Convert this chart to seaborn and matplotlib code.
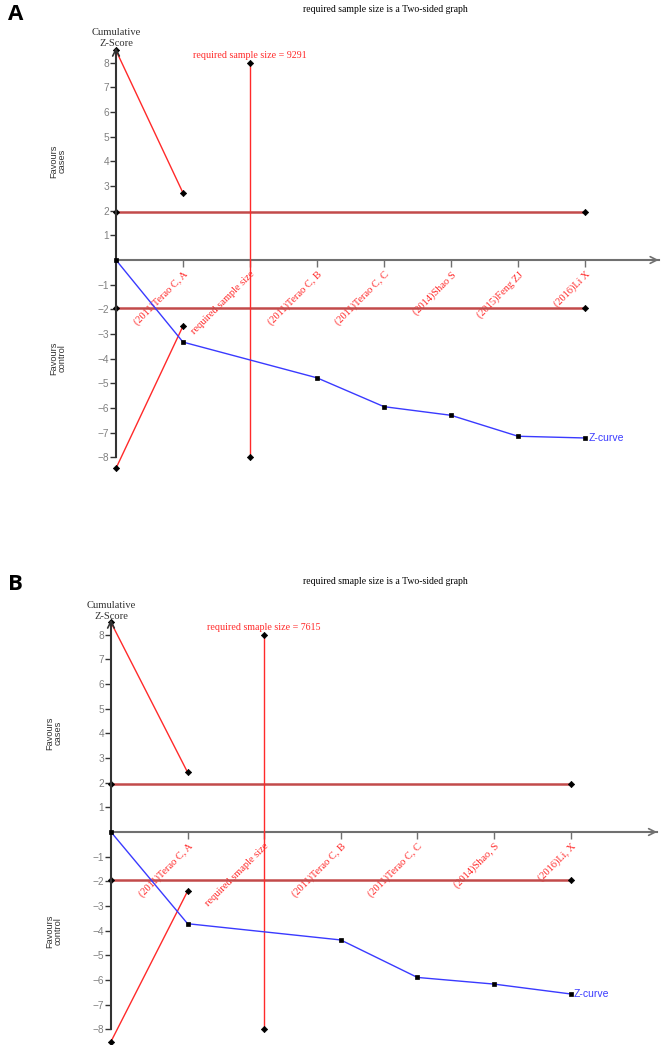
import matplotlib
matplotlib.use("Agg")
import matplotlib.pyplot as plt
import seaborn as sns
import numpy as np

# ---------------- data ----------------
# Panel A
labels_a = ["(2011)Terao C, A", "required sample size", "(2011)Terao C, B",
            "(2011)Terao C, C", "(2014)Shao S", "(2015)Feng ZJ", "(2016)Li X"]
z_pos_a = [0, 1, 3, 4, 5, 6, 7]
z_val_a = [0, -3.33, -4.78, -5.95, -6.30, -7.15, -7.22]
upper_pos_a = [0, 1]
upper_val_a = [8.5, 2.72]
lower_pos_a = [0, 1]
lower_val_a = [-8.45, -2.68]
req_pos_a = 2
req_text_a = "required sample size = 9291"
title_a = "required sample size is a Two-sided graph"

# Panel B
labels_b = ["(2011)Terao C, A", "required smaple size", "(2011)Terao C, B",
            "(2011)Terao C, C", "(2014)Shao, S", "(2016)Li, X"]
z_pos_b = [0, 1, 3, 4, 5, 6]
z_val_b = [0, -3.72, -4.38, -5.90, -6.17, -6.57]
upper_pos_b = [0, 1]
upper_val_b = [8.5, 2.42]
lower_pos_b = [0, 1]
lower_val_b = [-8.5, -2.40]
req_pos_b = 2
req_text_b = "required smaple size = 7615"
title_b = "required smaple size is a Two-sided graph"

req_range = [-8, 8]
conv = 1.96
yticks = [-8, -7, -6, -5, -4, -3, -2, -1, 1, 2, 3, 4, 5, 6, 7, 8]

# ---------------- style ----------------
sns.set_style("white")
plt.rcParams['font.family'] = ['Liberation Sans', 'DejaVu Sans']
plt.rcParams['axes.unicode_minus'] = True

W, H = 666, 1045
fig = plt.figure(figsize=(W / 100, H / 100), dpi=100)

SERIF = 'Liberation Serif'
RED = '#ff2a2a'
DARKRED = '#c24a4a'
MK = dict(markersize=3.2, markerfacecolor='black', markeredgecolor='black',
          markeredgewidth=0.5)


def fx(px):
    return px / W


def fy(py):
    return 1 - py / H


def panel(ax, labels, zpos, zval, upos, uval, lpos, lval, reqpos, reqtext,
          origin_px, unit_x, zero_py, unit_y, top_py, bottom_py, x_end):
    ax.set_facecolor('none')
    ax.set_xlim(-origin_px / unit_x, (W - origin_px) / unit_x)
    ax.set_ylim((zero_py - bottom_py) / unit_y, (zero_py - top_py) / unit_y)
    n = len(labels)

    # conventional boundaries
    for v in (conv, -conv):
        sns.lineplot(x=[0, n], y=[v, v], ax=ax, color=DARKRED, lw=1.8,
                     marker='D', zorder=2, **MK)
    # required information size vertical line
    sns.lineplot(x=[reqpos, reqpos], y=req_range, ax=ax, color=RED, lw=1.0,
                 marker='D', zorder=3, sort=False, estimator=None, **MK)
    ax.text(reqpos, 8.3, reqtext, color=RED, fontsize=7.2, family=SERIF,
            ha='center', va='center')
    # monitoring boundaries
    sns.lineplot(x=upos, y=uval, ax=ax, color=RED, lw=1.0, marker='D',
                 zorder=3, **MK)
    sns.lineplot(x=lpos, y=lval, ax=ax, color=RED, lw=1.0, marker='D',
                 zorder=3, **MK)
    # z-curve
    sns.lineplot(x=zpos, y=zval, ax=ax, color='#3a3aff', lw=1.0, marker='s',
                 zorder=4, **MK)
    ax.annotate('Z-curve', xy=(zpos[-1], zval[-1]), xytext=(2.5, 0),
                textcoords='offset points', color='#3a3aff', fontsize=7.5,
                ha='left', va='center')
    for ln in ax.get_lines():
        ln.set_clip_on(False)

    # axes
    for s in ('top', 'right'):
        ax.spines[s].set_visible(False)
    ax.spines['left'].set_position(('data', 0))
    ax.spines['bottom'].set_position(('data', 0))
    ax.spines['left'].set_bounds(-8, 8.55)
    ax.spines['bottom'].set_bounds(0, x_end)
    ax.spines['left'].set_color('#333333')
    ax.spines['left'].set_linewidth(1.5)
    ax.spines['bottom'].set_color('#707070')
    ax.spines['bottom'].set_linewidth(1.5)
    ax.annotate('', xy=(0, 8.62), xytext=(0, 8.2),
                arrowprops=dict(arrowstyle='->', color='#333333', lw=1.2,
                                shrinkA=0, shrinkB=0, mutation_scale=12))
    ax.annotate('', xy=(x_end, 0), xytext=(x_end - 0.3, 0),
                arrowprops=dict(arrowstyle='->', color='#707070', lw=1.2,
                                shrinkA=0, shrinkB=0, mutation_scale=12))

    ax.set_yticks(yticks)
    ax.set_yticklabels([f"{t}".replace('-', '\u2212') for t in yticks])
    ax.tick_params(axis='y', direction='out', length=4, width=1,
                   color='#333333', labelcolor='#808080', labelsize=7.3, pad=1,
                   left=True)
    ax.set_xticks(list(range(1, n + 1)))
    ax.set_xticklabels(labels)
    ax.tick_params(axis='x', direction='out', length=5, width=1,
                   color='#707070', pad=2, bottom=True)
    for t in ax.get_xticklabels():
        t.set_rotation(45)
        t.set_rotation_mode('anchor')
        t.set_ha('right')
        t.set_va('top')
        t.set_color(RED)
        t.set_family(SERIF)
        t.set_fontsize(7.5)
    ax.set_xlabel('')
    ax.set_ylabel('')
    ax.grid(False)


axA = fig.add_axes([0, fy(520), 1, 520 / H])
panel(axA, labels_a, z_pos_a, z_val_a, upper_pos_a, upper_val_a,
      lower_pos_a, lower_val_a, req_pos_a, req_text_a,
      origin_px=116, unit_x=67, zero_py=260, unit_y=24.65,
      top_py=0, bottom_py=520, x_end=8.1)

axB = fig.add_axes([0, 0, 1, (H - 520) / H])
panel(axB, labels_b, z_pos_b, z_val_b, upper_pos_b, upper_val_b,
      lower_pos_b, lower_val_b, req_pos_b, req_text_b,
      origin_px=111, unit_x=76.6, zero_py=832, unit_y=24.65,
      top_py=520, bottom_py=H, x_end=7.13)

# annotations outside the plotting areas
for (lab, lx, ly, title, ty, cx, cy, fav_c, fav_k) in [
        ('A', 8, 14, title_a, 10, 116, 38, 161, 358),
        ('B', 8, 584, title_b, 582, 111, 611, 733, 931)]:
    fig.text(fx(lx), fy(ly), lab, fontsize=16, weight='bold',
             family='Open Sans', ha='left', va='center', color='black')
    fig.text(fx(385), fy(ty), title, fontsize=7, family=SERIF,
             ha='center', va='center', color='black')
    fig.text(fx(cx), fy(cy), 'Cumulative\nZ-Score', fontsize=7.6, family=SERIF,
             ha='center', va='center', color='#333333', linespacing=1.3)
    fig.text(fx(58 if lab == 'A' else 54), fy(fav_c), 'Favours\ncases',
             fontsize=6.7, rotation=90, ha='center', va='center',
             multialignment='center', color='#333333', linespacing=1.0)
    fig.text(fx(58 if lab == 'A' else 54), fy(fav_k), 'Favours\ncontrol',
             fontsize=6.7, rotation=90, ha='center', va='center',
             multialignment='center', color='#333333', linespacing=1.0)

fig.savefig('out.png', dpi=100, facecolor='white')
